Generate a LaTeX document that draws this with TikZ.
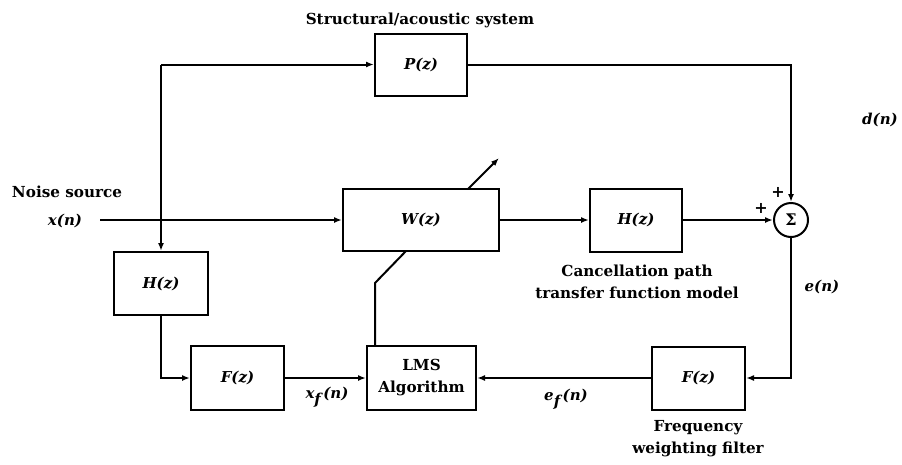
\documentclass[tikz,border=0pt]{standalone}
\usepackage{fontspec}
\setmainfont{DejaVu Serif}
\usetikzlibrary{arrows.meta}
\begin{document}
\begin{tikzpicture}[x=1pt,y=-1pt,
  blk/.style={draw,line width=2pt,inner sep=0pt,font=\fontsize{15}{18}\selectfont\bfseries\itshape},
  lbl/.style={inner sep=0pt,font=\fontsize{15.2}{22}\selectfont\bfseries,align=center},
  mlbl/.style={inner sep=0pt,font=\fontsize{15}{18}\selectfont\bfseries\itshape},
  wire/.style={line width=2pt},
  arr/.style={wire,-{Latex[length=8pt,width=6pt]}}]
\path[fill=white,use as bounding box] (0,0) rectangle (902,464);
% blocks
\node[blk,minimum width=92pt,minimum height=62pt] (P) at (421,64.5) {P(z)};
\node[blk,minimum width=156pt,minimum height=62pt] (W) at (421,220) {W(z)};
\node[blk,minimum width=92pt,minimum height=63pt] (Hm) at (636,220) {H(z)};
\node[blk,minimum width=94pt,minimum height=63pt] (Hl) at (161,283.5) {H(z)};
\node[blk,minimum width=93pt,minimum height=64pt] (F1) at (237.5,378) {F(z)};
\node[blk,minimum width=109pt,minimum height=64pt,font=\fontsize{15.2}{22}\selectfont\bfseries,align=center] (LMS) at (421.5,378) {LMS\\Algorithm};
\node[blk,minimum width=93pt,minimum height=63pt] (F2) at (698.5,378) {F(z)};
\node[draw,circle,line width=2pt,minimum size=34pt,inner sep=0pt,font=\fontsize{16}{18}\selectfont\bfseries] (S) at (791,220) {Σ};
% text labels
\node[lbl] (tsys) at (420,20) {Structural/acoustic system};
\node[lbl] (tnoise) at (67,192) {Noise source};
\node[mlbl] (txn) at (65,221) {x(n)};
\node[lbl] (tcanc) at (637,282) {Cancellation path\\transfer function model};
\node[lbl] (tfreq) at (698,439) {Frequency\\weighting filter};
\node[mlbl] (tdn) at (880,120) {d(n)};
\node[mlbl] (ten) at (822,287) {e(n)};
\node[mlbl] (txf) at (327,397) {x\raisebox{-6pt}{f}\,(n)};
\node[mlbl] (tef) at (566,399) {e\raisebox{-6pt}{f}\,(n)};
\node[inner sep=0pt,font=\fontsize{16}{18}\selectfont\bfseries] (p1) at (761,208) {+};
\node[inner sep=0pt,font=\fontsize{16}{18}\selectfont\bfseries] (p2) at (778,192) {+};
% connectors
\coordinate (xin) at (100,220);
\coordinate (tl) at (161,64.5);
\draw[arr] (xin) -- (W.west);
\draw[arr] (tl) -- (P.west);
\draw[arr] (tl) -- (Hl.north);
\draw[arr] (P.east) -| (S.north);
\draw[arr] (W.east) -- (Hm.west);
\draw[arr] (Hm.east) -- (S.west);
\draw[arr] (Hl.south) |- (F1.west);
\draw[arr] (F1.east) -- (LMS.west);
\draw[arr] (S.south) |- (F2.east);
\draw[arr] (F2.west) -- (LMS.east);
% adaptation path
\coordinate (a1) at (375,346);
\coordinate (a2) at (375,283);
\coordinate (a3) at (406,251);
\coordinate (a4) at (468,189);
\coordinate (a5) at (499,158);
\draw[wire] (a1) -- (a2) -- (a3);
\draw[arr] (a4) -- (a5);
\end{tikzpicture}
\end{document}
